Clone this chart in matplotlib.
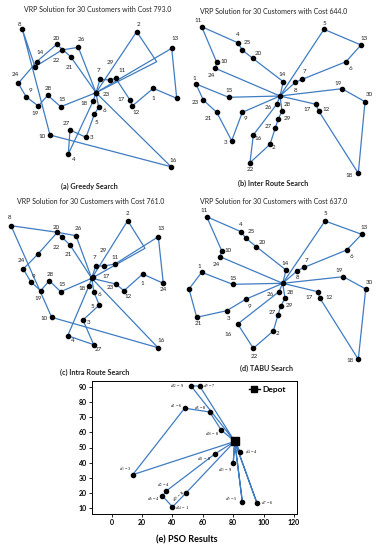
import matplotlib.pyplot as plt
from matplotlib.lines import Line2D

plt.rcParams['font.family'] = ['Lato', 'DejaVu Sans']
plt.rcParams['mathtext.fontset'] = 'stix'

BLUE = '#3f7cc2'
W, H = 380, 550

# ---------------- VRP panels: node coords (x, y-down) ----------------
# (a) greedy search
a_pts = {'D': (96, 92.7), '23': (96, 92.7), '8': (22.3, 29.3), '20': (56.7, 44.3), '26': (78.3, 47.3),
         '14': (36.7, 61.7), 'X': (35, 66.7), '22': (62, 50), '21': (70.7, 56.7), '2': (136.7, 31.7),
         '13': (171.7, 48.3), '24': (18.3, 83.3), '9': (26, 96.7), '19': (38.3, 106), '28': (47.7, 95.3),
         '15': (60.7, 106.7), '7': (100, 79.3), '29': (110, 80), '11': (115.7, 78.3), '18': (93.3, 100.7),
         '6': (98.7, 107.3), '5': (94.3, 114.3), '17': (130, 100), '12': (132.3, 106), '1': (153.3, 88.3),
         'R': (176.7, 98.3), '27': (70, 130), '3': (86, 137.3), '10': (50, 135), '4': (68.3, 154),
         '16': (171, 166.7), 'Q': (156.7, 61.7)}
a_routes = [['D', '21', '20', '14', '24', '9', '19', '28', '15', 'D'],
            ['D', '26', '22', 'X', '8', '10', '16', 'D'],
            ['D', '18', '4', '27', '3', '5', '6', 'D'],
            ['D', '7', '29', '11', '17', '12', '1', 'R', '13', 'D'],
            ['D', '2', 'Q', 'D']]
a_lbl = {'8': (-2.3, -5.3), '20': (-0.7, -6), '26': (2.7, -8), '14': (3.3, -9.3), '22': (-5.3, 10),
         '21': (-1.3, 11), '2': (1.7, -7.3), '13': (3.3, -9.3), '24': (-3.3, -8.3), '9': (4, -6),
         '19': (-3.3, 7.3), '28': (0.7, -7), '15': (1, -7.3), '7': (-1.3, -8.3), '29': (0, -17.7),
         '11': (6, -7.3), '23': (10, 2.3), '18': (-9, 2.7), '6': (5.3, 2.7), '5': (2.3, 8),
         '17': (-9, -0.7), '12': (4.3, 6.3), '1': (0, 10), '27': (-4, -6.7), '3': (5.7, 0),
         '10': (-8.3, 1), '4': (5, 5.3), '16': (2.3, -6.7)}

# (b) inter route search
b_pts = {'D': (90, 96), '11': (11.7, 26.7), '4': (47.7, 42.7), '25': (52.3, 50), '20': (62.7, 58.3),
         '10': (26.7, 62.3), '24': (25.3, 68.3), '14': (93.3, 81.7), '7': (112.3, 79.3), '8': (105.3, 82.3),
         '5': (134, 29.3), '13': (171, 45), '6': (156, 61.7), '19': (152, 88.7), '30': (175, 101.7),
         '1': (6, 84), '15': (38.7, 97.3), '23': (13.3, 100), '21': (26.7, 112.3), '26': (86.7, 104.3),
         '28': (92, 111), '29': (88.3, 119), '27': (85.3, 128), '9': (52.3, 112.3), '17': (126, 104.3),
         '12': (128.7, 111), '16': (63.3, 135), '3': (41.7, 140.7), '2': (80, 144.3), '22': (60, 162.7),
         '18': (168.3, 173.3)}
b_routes = [['D', '14', '20', '25', '4', '11', '10', '24', 'D'],
            ['D', '8', '7', '6', '13', '5', 'D'],
            ['D', '19', '30', '18', '12', '17', 'D'],
            ['D', '15', '1', '23', '21', '3', '9', 'D'],
            ['D', '26', '16', '22', '2', '27', '29', '28', 'D']]
b_lbl = {'11': (-3.3, -6.7), '4': (-0.3, -8.3), '25': (5, -7.3), '20': (5.7, -5), '10': (7.7, -0.7),
         '24': (-3.7, 7.3), '14': (-1.3, -6.7), '7': (2, -7.7), '8': (0.3, 7.7), '5': (0, -6),
         '13': (3.3, -6.7), '6': (4, 7.3), '19': (-3.7, -5.3), '30': (4, -6.7), '1': (-2, -5.3),
         '15': (0.7, -6.7), '23': (-8.3, 2.3), '21': (-8.3, 6), '26': (-8, 3.3), '28': (5.7, -6.7),
         '29': (9, -1), '27': (-7, -1), '9': (3, 6.7), '17': (-9.3, 5), '12': (7.3, -1.7),
         '16': (5, 3.3), '3': (-5.7, 2), '2': (4, 3), '22': (0, 6.7), '18': (-9, 2.3)}

# (c) intra route search
c_pts = {'D': (91.7, 83.3), '17': (92.7, 82.3), '8': (11, 30.7), '20': (57.3, 37.3), '26': (76, 40.7),
         '22': (62, 42.3), '21': (70, 50), 'U': (38.3, 58.7), '2': (127.7, 25.7), '13': (158.3, 41.7),
         '24': (23.3, 74), '7': (95.7, 71), '29': (104.3, 71), '11': (115, 69), '1': (142.7, 79),
         '24#2': (163.3, 88.3), '9': (30.7, 86.7), '19': (40.7, 95.7), '28': (49.3, 85.7), '15': (60.7, 96.7),
         '18': (89, 90.7), '6': (94, 97.3), '23': (115.7, 89), '12': (124, 95.7), '5': (99.3, 110),
         '3': (83, 125), '10': (51.7, 122.3), '4': (67.7, 140.7), '27': (93.7, 149.7), '16': (158, 152.7),
         'Q': (145, 53.3)}
c_routes = [['D', '21', '22', '20', 'U', '24', '9', '19', '28', '15', 'D'],
            ['D', '26', '20', '8', '10', '16', 'D'],
            ['D', '18', '4', '27', '3', '5', '6', 'D'],
            ['D', '7', '29', '11', '13', '24#2', '1', '12', '23', 'D'],
            ['D', '2', 'Q', 'D']]
c_lbl = {'8': (-1, -8.4), '20': (-1.3, -5), '26': (2.7, -7.3), '22': (-5.3, 10), '21': (-1.7, 10),
         '2': (0.3, -7.3), '13': (3.3, -8.3), '24': (-2.3, -8), '7': (-1.3, -8.3), '29': (-1, -16),
         '11': (0, -6.3), '17': (13, -1), '1': (0, 9.3), '24#2': (0, 6), '9': (2.7, -5.7),
         '19': (-3, 7.7), '28': (0.7, -6.7), '15': (1.3, -6.7), '18': (-7.3, 2.7), '6': (5, 2.7),
         '23': (-5.7, 3.3), '12': (4, 6), '5': (-6.7, 1), '3': (5.7, 2.3), '10': (-7.3, 1),
         '4': (5, 4.3), '27': (5, 4.7), '16': (2.7, -7)}

# (d) TABU search
d_pts = {'D': (92.7, 88.3), '11': (16.7, 21.7), '4': (51, 36.7), '25': (56, 43.3), '20': (66.3, 51.7),
         '10': (31.7, 55.7), '24': (30, 61.7), '14': (96, 75), '7': (114.3, 72.3), '8': (107.3, 75.7),
         '5': (135, 26), '13': (171.7, 39.3), '6': (156.7, 55), '19': (153.3, 81.7), '1': (11.7, 77.3),
         '15': (42.7, 89.3), '30': (175.7, 94), '23': (-1, 94), '26': (89, 96.7), '28': (95, 103.3),
         '29': (90.7, 111), '27': (88, 120), '2': (83.3, 136), '22': (63.3, 153.3), '16': (47.7, 129),
         '3': (36.7, 115.7), '9': (55.7, 104.3), '21': (6.7, 122.3), '17': (127.7, 96.7),
         '12': (130, 103.3), '18': (168.3, 164.3)}
d_routes = [['D', '14', '20', '25', '4', '11', '10', '24', 'D'],
            ['D', '8', '7', '6', '13', '5', 'D'],
            ['D', '19', '30', '18', '12', '17', 'D'],
            ['D', '15', '1', '23', '21', '3', '9', 'D'],
            ['D', '26', '16', '22', '2', '27', '29', '28', 'D']]
d_lbl = {'11': (-2.7, -6.7), '4': (0, -7.7), '25': (5, -6.7), '20': (5.7, -4.7), '10': (6.7, 0),
         '24': (-3.3, 7.7), '14': (-1, -6.7), '7': (2.3, -6.3), '8': (0, 7), '5': (0, -7.7),
         '13': (2.7, -6.7), '6': (4.3, 6.7), '19': (-4.3, -5.7), '1': (-2.3, -6.3), '15': (0.7, -6),
         '30': (3.3, -6.7), '23': (6, 3.7), '26': (-9, 2.3), '28': (5, -5.7), '29': (8.7, -0.3),
         '27': (-6, -2), '2': (4, 2.3), '22': (0.7, 7.7), '16': (-9.3, 10.3), '3': (1.6, 8.3),
         '9': (3.3, 6.7), '21': (1.6, 6), '17': (-8.7, 5.6), '12': (9.3, -1), '18': (-8.3, 1.4)}

costs = [793.0, 644.0, 761.0, 637.0]
captions = ['(a) Greedy Search', '(b) Inter Route Search', '(c) Intra Route Search', '(d) TABU Search']

# ---------------- PSO panel ----------------
pso_ids = [1, 2, 3, 4, 5, 6, 7, 8, 9, 10, 11, 12, 13, 14, 15]
pso_x = [48, 36, 13.8, 84.4, 86, 33.4, 95.6, 64.5, 58, 72, 68, 52, 80, 40, 49]
pso_y = [76, 21.3, 32, 47, 14, 18, 13.3, 73.5, 90.5, 61.7, 45.8, 91, 39.8, 10.7, 20]
pso_dem = [6, 4, 3, 4, 5, 4, 6, 8, 7, 8, 8, 9, 9, 1, 8]
depot_xy = (81, 54)
pso_routes = [[12, 9], [10, 8, 1, 3], [11, 2, 6, 14, 15], [13], [4], [5], [7]]
pso_lbl = {1: (-8.3, -3), 2: (-3, -5.7), 3: (-7, -6), 4: (11.3, 0), 5: (-11, -3.5), 6: (-9.5, 3),
           7: (10, 0), 8: (-9.5, -4), 9: (9.5, 0), 10: (-9.5, 4), 11: (-11, 5), 12: (-13.5, 0),
           13: (-8, 6.7), 14: (10, 1), 15: (-7.5, 3)}

fig = plt.figure(figsize=(W / 100, H / 100), dpi=100)


def draw_vrp(ox, oy, h, pts, routes, lbl):
    ax = fig.add_axes([ox / W, 1 - (oy + h) / H, 190 / W, h / H])
    for r in routes:
        ax.plot([pts[k][0] for k in r], [pts[k][1] for k in r], color=BLUE, lw=0.9,
                zorder=1, clip_on=False)
    for k, (x, y) in pts.items():
        if k == 'Q':
            continue
        ax.plot(x, y, 'o', color='k', ms=3, zorder=2, clip_on=False)
    for k, (dx, dy) in lbl.items():
        ax.annotate(k.split('#')[0], pts[k], xytext=(dx * 0.72, -dy * 0.72),
                    textcoords='offset points', ha='center', va='center', fontsize=4.5,
                    color='#222222')
    ax.set_xlim(0, 190)
    ax.set_ylim(h, 0)
    ax.axis('off')


draw_vrp(0, 0, 195, a_pts, a_routes, a_lbl)
draw_vrp(190, 0, 195, b_pts, b_routes, b_lbl)
draw_vrp(0, 195, 185, c_pts, c_routes, c_lbl)
draw_vrp(190, 195, 185, d_pts, d_routes, d_lbl)

title_pos = [(98, 10), (274, 11), (91, 201), (274, 201)]
cap_pos = [(89, 186), (273, 183), (95, 372), (267, 368)]
for (tx, ty), c in zip(title_pos, costs):
    fig.text(tx / W, 1 - ty / H, 'VRP Solution for 30 Customers with Cost %.1f' % c,
             ha='center', va='center', fontsize=5, color='#222222')
for (cx, cy), c in zip(cap_pos, captions):
    fig.text(cx / W, 1 - cy / H, c, ha='center', va='center', fontsize=5.2,
             fontweight='bold', color='#222222')

ax = fig.add_axes([92 / W, 1 - 514 / H, 205 / W, 133 / H])
px = dict(zip(pso_ids, pso_x))
py = dict(zip(pso_ids, pso_y))
for r in pso_routes:
    xs = [depot_xy[0]] + [px[i] for i in r] + [depot_xy[0]]
    ys = [depot_xy[1]] + [py[i] for i in r] + [depot_xy[1]]
    ax.plot(xs, ys, color=BLUE, lw=0.9, zorder=1)
ax.plot(pso_x, pso_y, 'o', color='k', ms=3, zorder=2)
ax.plot(*depot_xy, 's', color='k', ms=5.5, zorder=3)
for i, dmd in zip(pso_ids, pso_dem):
    dx, dy = pso_lbl[i]
    ax.annotate(r'$d_{%d}$ = %d' % (i, dmd), (px[i], py[i]), xytext=(dx * 0.72, -dy * 0.72),
                textcoords='offset points', ha='center', va='center', fontsize=3.2,
                rotation=40 if i == 15 else 0, family='Liberation Serif')
ax.set_xlim(-13, 122)
ax.set_ylim(6, 94)
ax.set_xticks(range(0, 121, 20))
ax.set_yticks(range(10, 91, 10))
ax.tick_params(labelsize=5, length=2, width=0.6, pad=1.5)
for t in ax.get_xticklabels() + ax.get_yticklabels():
    t.set_fontweight('bold')
for s in ax.spines.values():
    s.set_linewidth(0.7)
h = Line2D([], [], color='k', marker='s', ms=5, lw=1)
ax.legend([h], ['Depot'], loc='upper right', frameon=False, handlelength=1.3,
          prop={'weight': 'bold', 'size': 6}, borderaxespad=0.2, handletextpad=0.3,
          bbox_to_anchor=(0.97, 1.0))
fig.text(187 / W, 1 - 540 / H, '(e) PSO Results', ha='center', va='center', fontsize=6.5,
         fontweight='bold')

fig.savefig('out.png', dpi=100)
